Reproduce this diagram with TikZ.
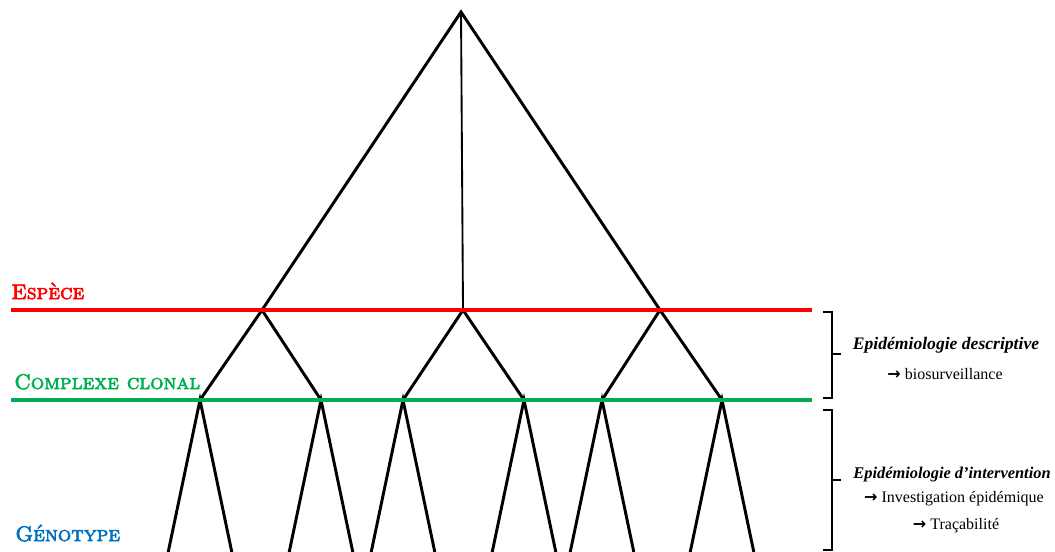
\documentclass[tikz,border=0pt]{standalone}
\usepackage{fontspec}
\setmainfont{Liberation Serif}
\newfontfamily\capsfont[FakeBold=3]{lmromancaps10-regular.otf}
\newfontfamily\arrowfont{DejaVu Sans}
\usepackage{xcolor}
\usetikzlibrary{
    positioning,
    calc,
}
\definecolor{especered}{RGB}{255,0,0}
\definecolor{clonalgreen}{RGB}{0,176,80}
\definecolor{genoblue}{RGB}{0,112,192}
\newcommand{\toarrow}{{\arrowfont\bfseries →}}
\tikzset{
    % Tree styles
    branch/.style={line width=2.2pt, black},
    trunk/.style={line width=1.4pt, black},
    level line/.style={line width=2.6pt},
    % Label styles
    level label/.style={anchor=base west, inner sep=0pt,
                        font=\capsfont\bfseries\fontsize{15.8}{18}\selectfont},
    bracket/.style={line width=1.4pt},
    annot/.style={inner sep=0pt, font=\fontsize{12}{14}\selectfont},
    annot title/.style={annot, font=\fontsize{13.2}{15}\selectfont\bfseries\itshape},
}

\begin{document}
\begin{tikzpicture}[x=0.75pt, y=-0.75pt]
    \useasboundingbox (0,0) rectangle (1055,551);
    \clip (0,0) rectangle (1055,551);

    % Nodes of the tree
    \coordinate (root) at (461,12);
    \foreach \n/\x in {1/262, 2/463, 3/660} {
        \coordinate (s\n) at (\x,310);
    }
    \foreach \n/\x in {1/200, 2/321, 3/403, 4/524, 5/602, 6/722} {
        \coordinate (c\n) at (\x,400);
        \coordinate (g\n l) at (\x-32,553);
        \coordinate (g\n r) at (\x+32,553);
    }

    % Branches
    \draw[branch] (s1) -- (root) -- (s3);
    \draw[trunk] (root) -- (s2);
    \foreach \s/\a/\b in {1/1/2, 2/3/4, 3/5/6} {
        \draw[branch] (c\a) -- (s\s) -- (c\b);
    }
    \foreach \n in {1,...,6} {
        \draw[branch] (g\n l) -- (c\n) -- (g\n r);
    }

    % Levels
    \draw[level line, especered] (11,310) -- (812,310);
    \draw[level line, clonalgreen] (11,400) -- (812,400);
    \node[level label, text=especered] (espece) at (11,299) {Espèce};
    \node[level label, text=clonalgreen] (clonal) at (14,389) {Complexe clonal};
    \node[level label, text=genoblue] (genotype) at (15,541) {Génotype};

    % Brackets
    \draw[bracket] (823,312) -- (832,312) -- (832,398) -- (823,398);
    \draw[bracket] (832,354) -- (841,354);
    \draw[bracket] (823,410) -- (832,410) -- (832,550) -- (823,550);
    \draw[bracket] (832,480) -- (841,480);

    % Annotations
    \node[annot title] (descr) at (946,345) {Epidémiologie descriptive};
    \node[annot] (biosurv) at (945,374) {\toarrow\ biosurveillance};
    \node[annot title, font=\fontsize{12.3}{14}\selectfont\bfseries\itshape] (interv) at (952,475) {Epidémiologie d’intervention};
    \node[annot] (invest) at (954,499) {\toarrow\ Investigation épidémique};
    \node[annot] (traca) at (956,526) {\toarrow\ Traçabilité};
\end{tikzpicture}
\end{document}
